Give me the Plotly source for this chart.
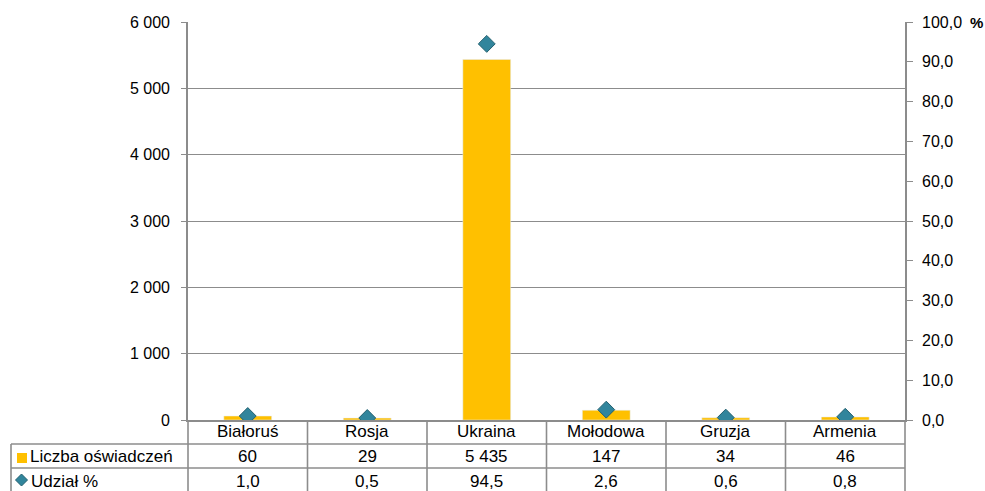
import plotly.graph_objects as go

categories = ["Białoruś", "Rosja", "Ukraina", "Mołodowa", "Gruzja", "Armenia"]
liczba = [60, 29, 5435, 147, 34, 46]
udzial = [1.0, 0.5, 94.5, 2.6, 0.6, 0.8]
liczba_labels = ["60", "29", "5 435", "147", "34", "46"]
udzial_labels = ["1,0", "0,5", "94,5", "2,6", "0,6", "0,8"]
row_names = ["Liczba oświadczeń", "Udział %"]

W, H = 985, 491
# plot-area edges in screenshot pixels
L, R, T, B = 188, 905, 22, 420
pw, ph = R - L, B - T

def px(x):
    return (x - L) / pw

def py(y):
    return (B - y) / ph

BAR = "#FFC000"
MK = "#31859C"
GRID = "#8C8C8C"
FONT = "Liberation Sans, Arial, sans-serif"

fig = go.Figure()
fig.add_trace(go.Bar(x=categories, y=liczba, marker_color=BAR, width=0.4,
                     name=row_names[0], yaxis="y"))
fig.add_trace(go.Scatter(x=categories, y=udzial, mode="markers", yaxis="y2",
                         name=row_names[1],
                         marker=dict(symbol="diamond", size=13, color=MK,
                                     line=dict(color="#23606F", width=1))))

n = len(categories)
shapes = []
line_style = dict(color=GRID, width=1.6)
for yy in (444, 468):
    shapes.append(dict(type="line", xref="paper", yref="paper", x0=px(11), x1=px(R),
                       y0=py(yy), y1=py(yy), line=line_style))
shapes.append(dict(type="line", xref="paper", yref="paper", x0=px(11), x1=px(11),
                   y0=py(444), y1=py(495), line=line_style))
for i in range(n + 1):
    xx = i / n
    shapes.append(dict(type="line", xref="paper", yref="paper", x0=xx, x1=xx,
                       y0=0, y1=py(495), line=line_style))
shapes.append(dict(type="rect", xref="paper", yref="paper", x0=px(17), x1=px(27),
                   y0=py(463), y1=py(453), fillcolor=BAR, line=dict(width=0)))
cx, cy, r = 21.5, 480, 6
shapes.append(dict(type="path", xref="paper", yref="paper",
                   path=f"M {px(cx)} {py(cy - r)} L {px(cx + r)} {py(cy)} L {px(cx)} {py(cy + r)} L {px(cx - r)} {py(cy)} Z",
                   fillcolor=MK, line=dict(color="#23606F", width=1)))

annotations = []
tfont = dict(family=FONT, size=17, color="black")
for i, c in enumerate(categories):
    xc = (i + 0.5) / n
    annotations.append(dict(x=xc, y=py(432), xref="paper", yref="paper", text=c,
                            showarrow=False, font=tfont, xanchor="center", yanchor="middle"))
    annotations.append(dict(x=xc, y=py(456.5), xref="paper", yref="paper", text=liczba_labels[i],
                            showarrow=False, font=tfont, xanchor="center", yanchor="middle"))
    annotations.append(dict(x=xc, y=py(481), xref="paper", yref="paper", text=udzial_labels[i],
                            showarrow=False, font=tfont, xanchor="center", yanchor="middle"))
annotations.append(dict(x=px(28), y=py(456.5), xref="paper", yref="paper", text=row_names[0],
                        showarrow=False, font=tfont, xanchor="left", yanchor="middle"))
annotations.append(dict(x=px(29), y=py(481), xref="paper", yref="paper", text=row_names[1],
                        showarrow=False, font=tfont, xanchor="left", yanchor="middle"))
annotations.append(dict(x=px(968), y=py(22), xref="paper", yref="paper", text="<b>%</b>",
                        showarrow=False, font=dict(family=FONT, size=15, color="black"),
                        xanchor="left", yanchor="middle"))

fig.update_layout(
    width=W, height=H,
    margin=dict(l=L, r=W - R, t=T, b=H - B, pad=0),
    paper_bgcolor="white", plot_bgcolor="white",
    showlegend=False,
    separators=", ",
    font=dict(family=FONT, size=16, color="black"),
    xaxis=dict(type="category", range=[-0.5, n - 0.5], showticklabels=False,
               showline=True, linecolor=GRID, linewidth=1.6, ticks="", showgrid=False,
               zeroline=False),
    yaxis=dict(range=[0, 6000], dtick=1000, tickformat=",d", showgrid=True,
               gridcolor=GRID, gridwidth=1, showline=True, linecolor=GRID, linewidth=1.6,
               ticks="outside", ticklen=5, tickcolor=GRID, zeroline=False,
               ticklabelstandoff=8, tickfont=dict(size=16)),
    yaxis2=dict(range=[0, 100], dtick=10, tickformat=".1f", overlaying="y", side="right",
                showgrid=False, showline=True, linecolor=GRID, linewidth=1.6,
                ticks="outside", ticklen=6, tickcolor=GRID, zeroline=False,
                ticklabelstandoff=6, tickfont=dict(size=16)),
    shapes=shapes,
    annotations=annotations,
)

fig.write_html("out.html", config={"displayModeBar": False},
               post_script="document.body.style.margin='0';document.body.style.overflow='hidden';")
